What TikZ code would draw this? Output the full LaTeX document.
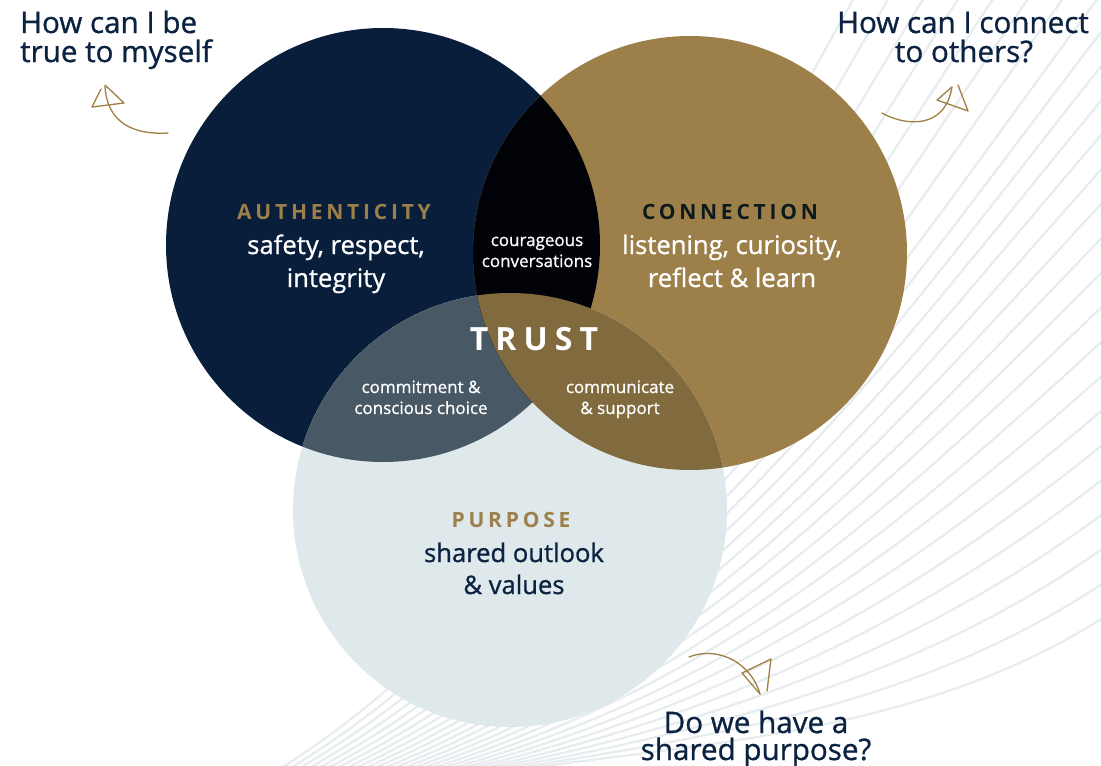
\documentclass[tikz,border=0pt]{standalone}
\usepackage{fontspec}
\setmainfont{Open Sans}[FakeBold=0.9]
\newfontfamily\trackfont[LetterSpace=18]{Open Sans}
\newfontfamily\trustfont[LetterSpace=22]{Open Sans}
\definecolor{navy}{HTML}{081E3A}
\definecolor{gold}{HTML}{9D7F4A}
\definecolor{lightp}{HTML}{DFE8EB}
\definecolor{ngcol}{HTML}{010207}
\definecolor{npcol}{HTML}{485864}
\definecolor{gpcol}{HTML}{806A3E}
\definecolor{allcol}{HTML}{050F12}
\definecolor{qnavy}{HTML}{0B2240}
\definecolor{conncol}{HTML}{0C1A1C}
\definecolor{linecol}{HTML}{E7EDEF}
\definecolor{arrowcol}{HTML}{A07F45}
\begin{document}
\begin{tikzpicture}[x=1pt,y=-1pt,
  bgline/.style={draw=linecol,line width=2.2pt},
  qtext/.style={text=qnavy,font=\fontsize{29.6}{30}\selectfont,inner sep=0pt,anchor=base},
  bodytext/.style={font=\fontsize{25.6}{28}\selectfont,inner sep=0pt,anchor=base},
  labeltext/.style={font=\fontsize{21}{22}\selectfont\trackfont\bfseries,inner sep=0pt,anchor=base},
  smalltext/.style={text=white,font=\fontsize{17}{18}\selectfont,inner sep=0pt,anchor=base},
  trusttext/.style={text=white,font=\fontsize{32}{33}\selectfont\trustfont\bfseries,inner sep=0pt,anchor=base},
  handarrow/.style={draw=arrowcol,line width=1.3pt,line join=round,line cap=round}]
\useasboundingbox (0,0) rectangle (1101,766);
\fill[white] (0,0) rectangle (1101,766);
% background swoosh lines
\begin{scope}
\clip (0,0) rectangle (1101,766);
\foreach \i in {0,...,25}{
  \pgfmathsetmacro\myt{\i/25}
  \pgfmathsetmacro\mysx{500-225*\myt}
  \pgfmathsetmacro\mysy{772}
  \pgfmathsetmacro\myaz{8+24*\myt}
  \pgfmathsetmacro\mys{\myt*890}
  \pgfmathsetmacro\myex{\mys<630 ? 1130 : 1760-\mys}
  \pgfmathsetmacro\myey{\mys<630 ? 600-\mys : -30}
  \pgfmathsetmacro\myae{35+25*\myt}
  \pgfmathsetmacro\myd{veclen(\myex-\mysx,\myey-\mysy)}
  \pgfmathsetmacro\myax{\mysx+0.35*\myd*cos(\myaz)}
  \pgfmathsetmacro\myay{\mysy-0.35*\myd*sin(\myaz)}
  \pgfmathsetmacro\mybx{\myex-0.35*\myd*cos(\myae)}
  \pgfmathsetmacro\myby{\myey+0.35*\myd*sin(\myae)}
  \draw[bgline] (\mysx,\mysy) .. controls (\myax,\myay) and (\mybx,\myby) .. (\myex,\myey);
}
\end{scope}
% circles
\coordinate (A) at (383,245);
\coordinate (G) at (690,253);
\coordinate (P) at (510,510);
\fill[navy] (A) circle (217pt);
\fill[gold] (G) circle (217pt);
\fill[lightp] (P) circle (217pt);
\begin{scope}
  \clip (A) circle (217pt);
  \fill[npcol] (P) circle (217pt);
  \fill[ngcol] (G) circle (217pt);
  \clip (G) circle (217pt);
  \fill[allcol] (P) circle (217pt);
\end{scope}
\begin{scope}
  \clip (G) circle (217pt);
  \fill[gpcol] (P) circle (217pt);
\end{scope}
% questions
\node[qtext,anchor=base west] (q1a) at (20,33) {How can I be};
\node[qtext,anchor=base west] (q1b) at (20,62) {true to myself};
\node[qtext] (q2a) at (963,33) {How can I connect};
\node[qtext] (q2b) at (964,62) {to others?};
\node[qtext] (q3a) at (756,733) {Do we have a};
\node[qtext] (q3b) at (756,760) {shared purpose?};
% authenticity
\node[labeltext,text=gold] (authL) at (334,219) {AUTHENTICITY};
\node[bodytext,text=white] (auth1) at (336,254) {safety, respect,};
\node[bodytext,text=white] (auth2) at (336,287) {integrity};
% connection
\node[labeltext,text=conncol] (connL) at (730,219) {CONNECTION};
\node[bodytext,text=white] (conn1) at (732,254) {listening, curiosity,};
\node[bodytext,text=white] (conn2) at (732,287) {reflect \& learn};
% purpose
\node[labeltext,text=gold] (purpL) at (511,527) {PURPOSE};
\node[bodytext,text=qnavy] (purp1) at (514,562) {shared outlook};
\node[bodytext,text=qnavy] (purp2) at (514,594) {\& values};
% overlaps
\node[smalltext] (cour1) at (537,246) {courageous};
\node[smalltext] (cour2) at (537,267) {conversations};
\node[trusttext] (trust) at (534,350) {TRUST};
\node[smalltext] (comm1) at (421,393) {commitment \&};
\node[smalltext] (comm2) at (421,414) {conscious choice};
\node[smalltext] (comu1) at (620,393) {communicate};
\node[smalltext] (comu2) at (620,414) {\& support};
% hand-drawn arrows
\draw[handarrow] (168,133) .. controls (135,135) and (107,124) .. (105,86);
\draw[handarrow] (101,89) -- (92,107) -- (124,103) -- (105,85);
\draw[handarrow] (882,113) .. controls (905,126) and (945,130) .. (952,87);
\draw[handarrow] (952,87) -- (937,100) -- (968,111) -- (958,85);
\draw[handarrow] (689,657) .. controls (720,645) and (752,665) .. (760,694);
\draw[handarrow] (760,694) -- (742,673) -- (771,659) -- (767,691);
\end{tikzpicture}
\end{document}
